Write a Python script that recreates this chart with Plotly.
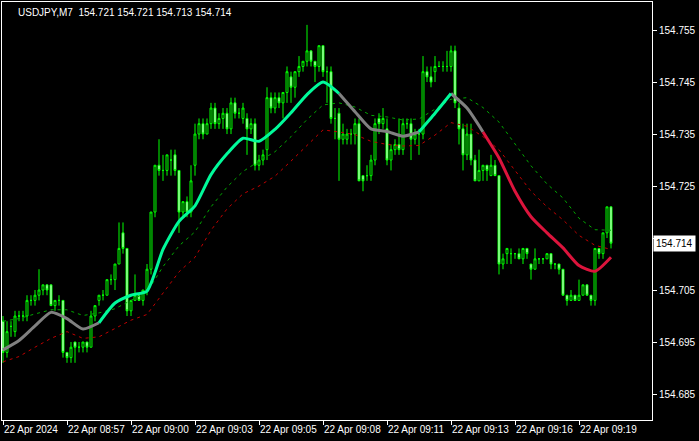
import plotly.graph_objects as go

# USDJPY M7 bars (index 0..152)
opens = [154.699, 154.693, 154.698, 154.697, 154.700, 154.700, 154.700, 154.703, 154.703, 154.704,
         154.705, 154.706, 154.706, 154.702, 154.703, 154.703, 154.693, 154.692, 154.695, 154.694,
         154.694, 154.695, 154.694, 154.700, 154.703, 154.704, 154.704, 154.707, 154.707, 154.710,
         154.716, 154.713, 154.701, 154.703, 154.704, 154.703, 154.705, 154.709, 154.720, 154.729,
         154.728, 154.728, 154.730, 154.731, 154.728, 154.720, 154.722, 154.720, 154.729, 154.735,
         154.737, 154.735, 154.737, 154.740, 154.737, 154.738, 154.739, 154.736, 154.741, 154.739,
         154.738, 154.738, 154.736, 154.737, 154.729, 154.730, 154.732, 154.742, 154.740, 154.742,
         154.741, 154.743, 154.746, 154.744, 154.747, 154.748, 154.749, 154.751, 154.749, 154.748,
         154.752, 154.747, 154.747, 154.738, 154.739, 154.734, 154.734, 154.735, 154.735, 154.737,
         154.727, 154.727, 154.727, 154.730, 154.738, 154.737, 154.736, 154.730, 154.732, 154.733,
         154.732, 154.737, 154.737, 154.734, 154.735, 154.735, 154.747, 154.746, 154.747, 154.748,
         154.748, 154.748, 154.748, 154.751, 154.740, 154.736, 154.731, 154.735, 154.730, 154.726,
         154.728, 154.729, 154.727, 154.729, 154.727, 154.710, 154.712, 154.712, 154.712, 154.712,
         154.711, 154.713, 154.710, 154.709, 154.711, 154.711, 154.711, 154.712, 154.710, 154.710,
         154.709, 154.704, 154.703, 154.704, 154.703, 154.704, 154.706, 154.704, 154.703, 154.713,
         154.712, 154.716, 154.721]
highs = [154.700, 154.699, 154.699, 154.701, 154.701, 154.701, 154.704, 154.704, 154.705, 154.709,
         154.706, 154.706, 154.706, 154.703, 154.704, 154.703, 154.693, 154.695, 154.695, 154.695,
         154.695, 154.695, 154.701, 154.702, 154.704, 154.705, 154.707, 154.708, 154.710, 154.718,
         154.718, 154.713, 154.703, 154.708, 154.704, 154.705, 154.710, 154.720, 154.729, 154.734,
         154.731, 154.731, 154.732, 154.732, 154.728, 154.722, 154.723, 154.729, 154.737, 154.738,
         154.738, 154.738, 154.741, 154.741, 154.739, 154.740, 154.740, 154.742, 154.742, 154.740,
         154.741, 154.739, 154.738, 154.738, 154.731, 154.732, 154.744, 154.743, 154.743, 154.743,
         154.743, 154.748, 154.747, 154.747, 154.750, 154.749, 154.756, 154.751, 154.749, 154.752,
         154.752, 154.748, 154.748, 154.740, 154.740, 154.737, 154.736, 154.736, 154.738, 154.738,
         154.727, 154.729, 154.731, 154.738, 154.739, 154.740, 154.738, 154.733, 154.734, 154.738,
         154.738, 154.738, 154.738, 154.736, 154.736, 154.750, 154.748, 154.748, 154.750, 154.749,
         154.749, 154.751, 154.752, 154.752, 154.741, 154.737, 154.737, 154.737, 154.731, 154.732,
         154.729, 154.729, 154.731, 154.730, 154.727, 154.712, 154.713, 154.713, 154.712, 154.713,
         154.713, 154.713, 154.710, 154.713, 154.711, 154.711, 154.712, 154.712, 154.710, 154.710,
         154.709, 154.704, 154.705, 154.704, 154.707, 154.706, 154.706, 154.704, 154.713, 154.713,
         154.716, 154.721, 154.721]
lows = [154.691, 154.692, 154.696, 154.696, 154.699, 154.699, 154.699, 154.702, 154.702, 154.703,
        154.704, 154.704, 154.702, 154.701, 154.702, 154.692, 154.691, 154.691, 154.691, 154.693,
        154.693, 154.693, 154.694, 154.699, 154.702, 154.703, 154.704, 154.706, 154.705, 154.710,
        154.712, 154.700, 154.700, 154.703, 154.703, 154.702, 154.704, 154.708, 154.719, 154.727,
        154.726, 154.727, 154.727, 154.727, 154.716, 154.719, 154.719, 154.719, 154.727, 154.734,
        154.734, 154.735, 154.736, 154.736, 154.736, 154.736, 154.735, 154.735, 154.738, 154.738,
        154.737, 154.731, 154.735, 154.728, 154.728, 154.729, 154.730, 154.739, 154.739, 154.740,
        154.738, 154.741, 154.741, 154.742, 154.746, 154.747, 154.748, 154.748, 154.745, 154.747,
        154.746, 154.741, 154.737, 154.734, 154.726, 154.733, 154.733, 154.733, 154.733, 154.726,
        154.724, 154.726, 154.726, 154.729, 154.735, 154.736, 154.729, 154.728, 154.731, 154.731,
        154.731, 154.736, 154.730, 154.733, 154.731, 154.734, 154.745, 154.744, 154.745, 154.748,
        154.747, 154.747, 154.747, 154.740, 154.733, 154.728, 154.730, 154.729, 154.726, 154.726,
        154.726, 154.726, 154.727, 154.727, 154.708, 154.709, 154.710, 154.710, 154.711, 154.711,
        154.710, 154.711, 154.707, 154.709, 154.710, 154.710, 154.711, 154.709, 154.709, 154.708,
        154.704, 154.702, 154.703, 154.703, 154.703, 154.704, 154.704, 154.702, 154.702, 154.711,
        154.711, 154.715, 154.713]
closes = [154.693, 154.697, 154.698, 154.700, 154.700, 154.700, 154.703, 154.703, 154.704, 154.705,
          154.706, 154.705, 154.702, 154.703, 154.703, 154.693, 154.692, 154.694, 154.694, 154.694,
          154.695, 154.694, 154.700, 154.702, 154.704, 154.704, 154.707, 154.707, 154.710, 154.713,
          154.713, 154.701, 154.703, 154.704, 154.703, 154.705, 154.709, 154.720, 154.729, 154.728,
          154.728, 154.731, 154.730, 154.728, 154.720, 154.722, 154.720, 154.726, 154.735, 154.737,
          154.735, 154.737, 154.740, 154.737, 154.738, 154.739, 154.736, 154.741, 154.739, 154.739,
          154.740, 154.736, 154.737, 154.729, 154.730, 154.731, 154.742, 154.740, 154.742, 154.741,
          154.743, 154.747, 154.744, 154.747, 154.748, 154.749, 154.751, 154.749, 154.748, 154.752,
          154.747, 154.747, 154.738, 154.738, 154.734, 154.735, 154.735, 154.735, 154.737, 154.726,
          154.726, 154.727, 154.730, 154.737, 154.737, 154.738, 154.730, 154.732, 154.733, 154.732,
          154.737, 154.737, 154.734, 154.735, 154.735, 154.747, 154.746, 154.745, 154.748, 154.748,
          154.748, 154.748, 154.751, 154.741, 154.736, 154.731, 154.735, 154.730, 154.726, 154.728,
          154.729, 154.728, 154.729, 154.727, 154.710, 154.711, 154.713, 154.712, 154.712, 154.711,
          154.713, 154.712, 154.709, 154.711, 154.711, 154.711, 154.712, 154.710, 154.710, 154.709,
          154.704, 154.703, 154.704, 154.703, 154.704, 154.706, 154.704, 154.703, 154.713, 154.712,
          154.716, 154.721, 154.714]

# indicator read every 4 bars
ind_bar = list(range(0, 153, 4))
ma = [154.6935, 154.6953, 154.6981, 154.7007, 154.6995, 154.6975, 154.6987, 154.7025, 154.7040, 154.7048,
      154.7128, 154.7182, 154.7212, 154.7272, 154.7312, 154.7342, 154.7336, 154.7359, 154.7391, 154.7426,
      154.7450, 154.7428, 154.7393, 154.7360, 154.7355, 154.7346, 154.7354, 154.7390, 154.7428, 154.7400,
      154.7354, 154.7304, 154.7240, 154.7191, 154.7160, 154.7131, 154.7097, 154.7086, 154.7113]
ma_state = ['flat'] * 7 + ['up'] * 15 + ['flat'] * 5 + ['up'] * 2 + ['flat'] * 2 + ['down'] * 8
upper = [154.6990, 154.6995, 154.7004, 154.7012, 154.7012, 154.7001, 154.7006, 154.7014, 154.7030, 154.7046,
         154.7095, 154.7135, 154.7162, 154.7210, 154.7248, 154.7278, 154.7298, 154.7316, 154.7345, 154.7378,
         154.7406, 154.7410, 154.7402, 154.7386, 154.7383, 154.7377, 154.7379, 154.7398, 154.7417, 154.7420,
         154.7401, 154.7373, 154.7330, 154.7289, 154.7254, 154.7227, 154.7188, 154.7166, 154.7165]
lower = [154.6912, 154.6922, 154.6940, 154.6957, 154.6970, 154.6957, 154.6960, 154.6976, 154.6992, 154.7003,
         154.7045, 154.7085, 154.7113, 154.7165, 154.7206, 154.7235, 154.7250, 154.7269, 154.7298, 154.7328,
         154.7358, 154.7354, 154.7349, 154.7336, 154.7330, 154.7327, 154.7328, 154.7348, 154.7372, 154.7365,
         154.7345, 154.7320, 154.7280, 154.7240, 154.7210, 154.7185, 154.7155, 154.7136, 154.7128]

time_ticks = [0, 16, 32, 48, 64, 80, 96, 112, 128, 144]
time_labels = ["22 Apr 2024", "22 Apr 08:57", "22 Apr 09:00", "22 Apr 09:03", "22 Apr 09:05",
               "22 Apr 09:08", "22 Apr 09:11", "22 Apr 09:13", "22 Apr 09:16", "22 Apr 09:19"]
price_ticks = [154.685, 154.695, 154.705, 154.715, 154.725, 154.735, 154.745, 154.755]
# 154.715 sits behind the current-price box, so its label is left out
price_labels = ["154.685", "154.695", "154.705", "", "154.725", "154.735", "154.745", "154.755"]

bars = list(range(len(closes)))
FONT = "Liberation Sans, Arial, sans-serif"

fig = go.Figure()

fig.add_trace(go.Scatter(x=ind_bar, y=upper, mode='lines', line=dict(color='#00A800', width=1, dash='3px,4px'),
                         hoverinfo='skip', showlegend=False))
fig.add_trace(go.Scatter(x=ind_bar, y=lower, mode='lines', line=dict(color='#C00000', width=1, dash='3px,4px'),
                         hoverinfo='skip', showlegend=False))

fig.add_trace(go.Candlestick(
    x=bars, open=opens, high=highs, low=lows, close=closes,
    increasing=dict(line=dict(color='#00FF00', width=1), fillcolor='#000000'),
    decreasing=dict(line=dict(color='#00FF00', width=1), fillcolor='#FFFFFF'),
    whiskerwidth=0, showlegend=False
))


def ma_segments(state):
    xs, ys = [], []
    for k in range(1, len(ma)):
        if ma_state[k] != state:
            continue
        if not xs or xs[-1] != ind_bar[k - 1]:
            if xs:
                xs.append(None)
                ys.append(None)
            xs.append(ind_bar[k - 1])
            ys.append(ma[k - 1])
        xs.append(ind_bar[k])
        ys.append(ma[k])
    return xs, ys


for state, color in [('flat', '#808080'), ('up', '#00FA9A'), ('down', '#DC143C')]:
    xs, ys = ma_segments(state)
    fig.add_trace(go.Scatter(x=xs, y=ys, mode='lines', line=dict(color=color, width=3, shape='spline', smoothing=0.6),
                             hoverinfo='skip', showlegend=False))

fig.add_annotation(x=0, y=1, xref='paper', yref='paper', xanchor='left', yanchor='top',
                   xshift=14, yshift=-3, showarrow=False,
                   text="USDJPY,M7  154.721 154.721 154.713 154.714",
                   font=dict(family=FONT, size=10, color='#FFFFFF'))

fig.add_annotation(x=1, y=closes[-1], xref='paper', yref='y', xanchor='left', yanchor='middle',
                   xshift=1, showarrow=False, text=f"{closes[-1]:.3f}", bgcolor='#FFFFFF', borderpad=2,
                   font=dict(family=FONT, size=10, color='#000000'))

fig.update_xaxes(range=[-0.25, 162.25], rangeslider_visible=False, showgrid=False, zeroline=False,
                 showline=True, linecolor='#FFFFFF', linewidth=1, mirror=True, automargin=False,
                 tickmode='array', tickvals=time_ticks, ticktext=time_labels, tickangle=0,
                 ticks='outside', ticklen=4, tickcolor='#FFFFFF', ticklabelposition='outside right',
                 tickfont=dict(family=FONT, size=10, color='#FFFFFF'))
fig.update_yaxes(range=[154.6800, 154.7604], side='right', showgrid=False, zeroline=False,
                 showline=True, linecolor='#FFFFFF', linewidth=1, mirror=True, automargin=False,
                 tickmode='array', tickvals=price_ticks, ticktext=price_labels,
                 ticks='outside', ticklen=4, tickcolor='#FFFFFF',
                 tickfont=dict(family=FONT, size=10, color='#FFFFFF'))

fig.update_layout(width=699, height=441, margin=dict(l=2, r=47, t=2, b=21, autoexpand=False),
                  paper_bgcolor='#000000', plot_bgcolor='#000000', showlegend=False,
                  hovermode=False)

fig.write_html("out.html", config={'displayModeBar': False},
               post_script="document.body.style.margin='0';document.body.style.background='#000';")
